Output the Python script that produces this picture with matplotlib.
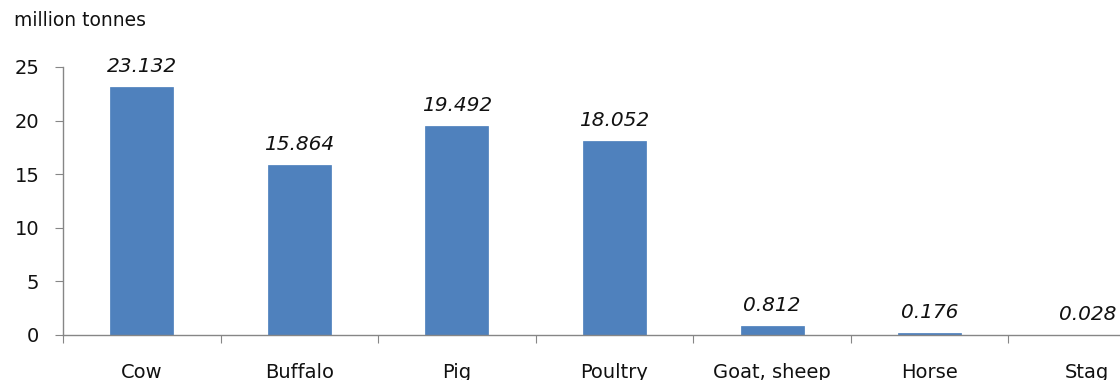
import matplotlib
matplotlib.use("Agg")
import matplotlib.pyplot as plt

categories = ["Cow", "Buffalo", "Pig", "Poultry", "Goat, sheep", "Horse", "Stag"]
values = [23.132, 15.864, 19.492, 18.052, 0.812, 0.176, 0.028]
value_labels = ["23.132", "15.864", "19.492", "18.052", "0.812", "0.176", "0.028"]
yticks = [0, 5, 10, 15, 20, 25]

plt.rcParams['font.family'] = ['DejaVu Sans']
fig = plt.figure(figsize=(11.2, 3.8), dpi=100)
W, H = 1120, 380
left, right, bottom, top = 63, 1166, 335, 67
ax = fig.add_axes([left / W, (H - bottom) / H, (right - left) / W, (bottom - top) / H])

x = list(range(len(categories)))
ax.bar(x, values, width=0.4, color="#4F81BD", edgecolor="#4A7EBB", linewidth=0.5)
for xi, v, lab in zip(x, values, value_labels):
    ax.annotate(lab, (xi, v), xytext=(0, 8), textcoords="offset points",
                ha="center", va="bottom", fontsize=14.5, style="italic", color="#111111")

ax.set_xlim(-0.5, len(categories) - 0.5)
ax.set_ylim(0, 25)
ax.set_yticks(yticks)
ax.set_yticklabels([str(t) for t in yticks], fontsize=14, color="#111111")
ax.set_xticks([i - 0.5 for i in range(len(categories) + 1)])
ax.set_xticklabels([])
ax.set_xticks(x, minor=True)
ax.set_xticklabels(categories, minor=True, fontsize=14, color="#111111")
ax.tick_params(axis="x", which="major", direction="out", length=6, color="#868686")
ax.tick_params(axis="x", which="minor", length=0, pad=20)
ax.tick_params(axis="y", direction="out", length=6, color="#868686", pad=11)

for s in ["top", "right"]:
    ax.spines[s].set_visible(False)
for s in ["left", "bottom"]:
    ax.spines[s].set_color("#868686")
    ax.spines[s].set_linewidth(1)

fig.text(14 / W, 1 - 20 / H, "million tonnes", fontsize=13.5, ha="left", va="center", color="#111111")

fig.savefig("out.png", dpi=100)
